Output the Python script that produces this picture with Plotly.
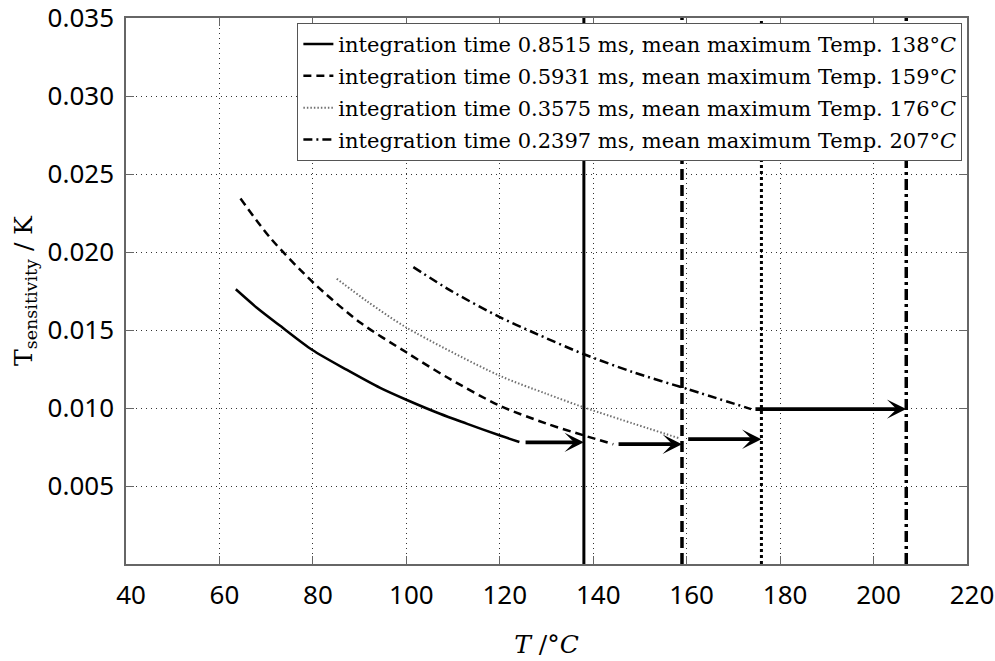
import plotly.graph_objects as go

# ---- data ----
solid_T = [63.5, 68.0, 73.0, 79.9, 87.3, 94.4, 100.0, 107.2, 112.9, 119.9, 124.2]
solid_S = [0.01761, 0.01643, 0.01527, 0.01372, 0.01244, 0.01129, 0.01053, 0.00963, 0.00900, 0.00825, 0.00782]

dashed_T = [64.5, 70.9, 80.1, 90.1, 100.0, 108.7, 119.9, 130.0, 137.9, 144.3]
dashed_S = [0.02343, 0.02090, 0.01803, 0.01548, 0.01357, 0.01197, 0.01016, 0.00900, 0.00825, 0.00768]

dotted_T = [85.1, 91.5, 100.0, 119.9, 130.0, 137.9, 158.6]
dotted_S = [0.01829, 0.01686, 0.01516, 0.01208, 0.01091, 0.01005, 0.00804]

dashdot_T = [101.5, 109.4, 119.9, 127.2, 137.9, 148.6, 160.0, 173.8]
dashdot_S = [0.01903, 0.01754, 0.01584, 0.01484, 0.01346, 0.01229, 0.01123, 0.00993]

vline_T = [138, 159, 176, 207]
arrow_from_T = [125.2, 145.1, 160.0, 174.4]
arrow_to_T = [138, 159, 176, 207]
arrow_S = [0.00780, 0.00768, 0.00800, 0.00993]

legend_names = [
    "integration time 0.8515 ms, mean maximum Temp. 138°<i>C</i>",
    "integration time 0.5931 ms, mean maximum Temp. 159°<i>C</i>",
    "integration time 0.3575 ms, mean maximum Temp. 176°<i>C</i>",
    "integration time 0.2397 ms, mean maximum Temp. 207°<i>C</i>",
]

x_ticks = [40, 60, 80, 100, 120, 140, 160, 180, 200, 220]
y_ticks = [0.005, 0.010, 0.015, 0.020, 0.025, 0.030, 0.035]
y_range = [0, 0.035]
x_range = [40, 220]

# ---- styles ----
curve_styles = [
    dict(color="black", width=2.5, dash="solid"),
    dict(color="black", width=2.5, dash="8px,5px"),
    dict(color="#707070", width=2, dash="1.5px,2px"),
    dict(color="black", width=2.5, dash="9px,4px,2px,4px"),
]
vline_styles = [
    dict(color="black", width=3, dash="solid"),
    dict(color="black", width=3.5, dash="11px,5px"),
    dict(color="black", width=3, dash="3px,3px"),
    dict(color="black", width=3.5, dash="11px,4px,3px,4px"),
]

fig = go.Figure()

curves = [(solid_T, solid_S), (dashed_T, dashed_S), (dotted_T, dotted_S), (dashdot_T, dashdot_S)]
for i, ((tx, sy), name, st) in enumerate(zip(curves, legend_names, curve_styles)):
    fig.add_trace(go.Scatter(x=tx, y=sy, mode="lines", name=name, legendgroup=f"g{i}",
                             line=dict(shape="spline", smoothing=0.8, **st)))

for t, st in zip(vline_T, vline_styles):
    fig.add_trace(go.Scatter(x=[t, t], y=y_range, mode="lines", showlegend=False,
                             line=st, hoverinfo="skip"))

for x0, x1, yv in zip(arrow_from_T, arrow_to_T, arrow_S):
    fig.add_annotation(x=x1, y=yv, ax=x0, ay=yv, xref="x", yref="y", axref="x", ayref="y",
                       text="", showarrow=True, arrowhead=3, arrowsize=0.85,
                       arrowwidth=3.8, arrowcolor="black", standoff=0)

tick_font = dict(family="Noto Sans", size=26, color="black")
title_font = dict(family="DejaVu Serif", size=25, color="black")

fig.update_xaxes(range=x_range, tickvals=x_ticks, ticktext=[str(v) for v in x_ticks],
                 showgrid=True, gridcolor="#333", gridwidth=1, griddash="1px,4px",
                 showline=True, linecolor="#666", linewidth=1.5, mirror="ticks",
                 ticks="inside", ticklen=8, tickcolor="#666", tickfont=tick_font,
                 zeroline=False, ticklabelstandoff=7, ticklabelshift=5,
                 ticklabeloverflow="allow", automargin=False,
                 title=dict(text="<i>T</i> /°<i>C</i>", font=title_font, standoff=25))
fig.update_yaxes(range=y_range, tickvals=y_ticks, ticktext=[f"{v:.3f}" for v in y_ticks],
                 showgrid=True, gridcolor="#333", gridwidth=1, griddash="1px,4px",
                 showline=True, linecolor="#666", linewidth=1.5, mirror="ticks",
                 ticks="inside", ticklen=8, tickcolor="#666", tickfont=tick_font,
                 zeroline=False, ticklabelstandoff=5, ticklabeloverflow="allow",
                 automargin=False,
                 title=dict(text="T<sub>sensitivity</sub> / K", font=title_font, standoff=8))

fig.update_layout(
    width=995, height=661,
    margin=dict(l=126, r=28, t=18, b=97),
    plot_bgcolor="white", paper_bgcolor="white",
    legend=dict(x=0.9945, y=0.991, xanchor="right", yanchor="top",
                bgcolor="white", bordercolor="#555", borderwidth=1,
                font=dict(family="DejaVu Serif", size=21, color="black"),
                itemwidth=30, tracegroupgap=1.5),
)

fig.write_html("out.html")
